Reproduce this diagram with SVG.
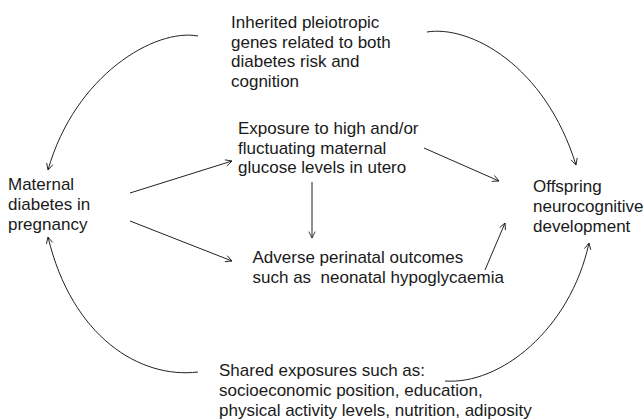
<svg xmlns="http://www.w3.org/2000/svg" width="644" height="420" viewBox="0 0 644 420">
<defs>
<marker id="arr" viewBox="0 0 10 10" refX="9" refY="5" markerWidth="8" markerHeight="8" markerUnits="userSpaceOnUse" orient="auto">
<path d="M1,1 L9,5 L1,9" fill="none" stroke="#222" stroke-width="1.1"/>
</marker>
</defs>
<style>
text{font-family:"Liberation Sans",Arial,Helvetica,sans-serif;font-size:17px;fill:#1a1a1a}
.c{fill:none;stroke:#222;stroke-width:1;marker-end:url(#arr)}
</style>
<rect width="644" height="420" fill="#fff"/>
<g id="genes">
<text x="231" y="27.5">Inherited pleiotropic</text>
<text x="231" y="47.5">genes related to both</text>
<text x="231" y="67">diabetes risk and</text>
<text x="231" y="86.5">cognition</text>
</g>
<g id="exposure">
<text x="238" y="133.5">Exposure to high and/or</text>
<text x="238" y="153.5">fluctuating maternal</text>
<text x="238" y="173">glucose levels in utero</text>
</g>
<g id="maternal">
<text x="8" y="189.5">Maternal</text>
<text x="8" y="210">diabetes in</text>
<text x="8" y="230">pregnancy</text>
</g>
<g id="adverse">
<text x="252.5" y="263">Adverse perinatal outcomes</text>
<text x="252.5" y="283" xml:space="preserve">such as  neonatal hypoglycaemia</text>
</g>
<g id="offspring">
<text x="533" y="191.5">Offspring</text>
<text x="533" y="211.5">neurocognitive</text>
<text x="533" y="231.5">development</text>
</g>
<g id="shared">
<text x="219" y="376">Shared exposures such as:</text>
<text x="219" y="396">socioeconomic position, education,</text>
<text x="219" y="415.5">physical activity levels, nutrition, adiposity</text>
</g>
<g id="connectors">
<path class="c" d="M198,36 C155,28 75,75 48,170"/>
<path class="c" d="M427,32 C470,25 545,65 576,165"/>
<path class="c" d="M130,193 L232,161"/>
<path class="c" d="M424,148 L499,181"/>
<path class="c" d="M312,182 L312,238"/>
<path class="c" d="M130,221 L232,261"/>
<path class="c" d="M485,270 L505,223"/>
<path class="c" d="M198,372 C140,379 72,337 48,237"/>
<path class="c" d="M445,381 C500,385 570,330 589,243"/>
</g>
</svg>
